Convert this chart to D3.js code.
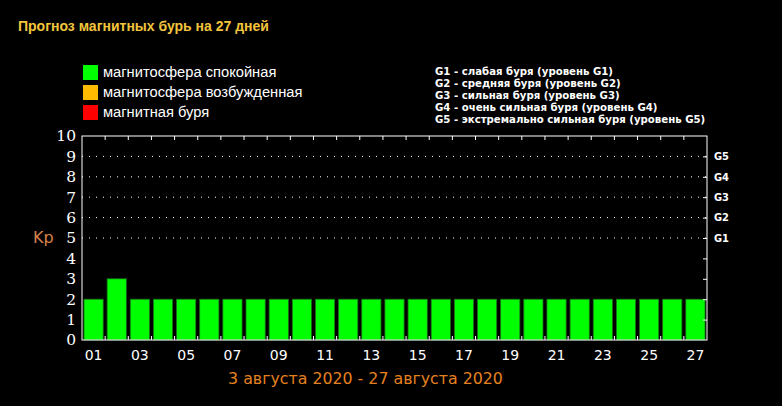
<!DOCTYPE html>
<html>
<head>
<meta charset="utf-8">
<script src="https://cdn.jsdelivr.net/npm/d3@7"></script>
<style>
  body { margin: 0; background: #000; }
  svg { display: block; }
</style>
</head>
<body>
<svg id="chart" width="782" height="406"></svg>
<script>
'use strict';

// forecast data
var days = d3.range(1, 28);
var kpValues = [2, 3, 2, 2, 2, 2, 2, 2, 2, 2, 2, 2, 2, 2, 2, 2, 2, 2, 2, 2, 2, 2, 2, 2, 2, 2, 2];
var dayLabels = ["01", "03", "05", "07", "09", "11", "13", "15", "17", "19", "21", "23", "25", "27"];
var kpTicks = [0, 1, 2, 3, 4, 5, 6, 7, 8, 9, 10];
var gLevels = [5, 6, 7, 8, 9];
var gLabels = ["G1", "G2", "G3", "G4", "G5"];

var legendItems = ["магнитосфера спокойная", "магнитосфера возбужденная", "магнитная буря"];
var legendColors = ["#00ff00", "#ffbb00", "#ff0000"];
var gDescriptions = [
    "G1 - слабая буря (уровень G1)",
    "G2 - средняя буря (уровень G2)",
    "G3 - сильная буря (уровень G3)",
    "G4 - очень сильная буря (уровень G4)",
    "G5 - экстремально сильная буря (уровень G5)"
];
var titleText = "Прогноз магнитных бурь на 27 дней";
var periodText = "3 августа 2020 - 27 августа 2020";

var margin = {top: 136, right: 75, bottom: 66, left: 82};
var width = 782 - margin.left - margin.right,
    height = 406 - margin.top - margin.bottom;

var svg = d3.select("#chart");

svg.append("text")
    .attr("x", 18)
    .attr("y", 31)
    .attr("fill", "#f3c53c")
    .style("font", "bold 14px 'Liberation Sans', Arial, sans-serif")
    .text(titleText);

// colour legend
var legend = svg.append("g").attr("transform", "translate(83,65)");
legend.selectAll("rect")
    .data(legendColors)
    .enter().append("rect")
    .attr("x", 0)
    .attr("y", function(d, i) { return i * 20; })
    .attr("width", 15)
    .attr("height", 15)
    .attr("fill", function(d) { return d; });
legend.selectAll("text")
    .data(legendItems)
    .enter().append("text")
    .attr("x", 20)
    .attr("y", function(d, i) { return i * 20 + 12; })
    .attr("fill", "#fff")
    .style("font", "14.7px 'Liberation Sans', Arial, sans-serif")
    .text(function(d) { return d; });

// storm level legend
svg.append("g").attr("transform", "translate(435,75)")
    .selectAll("text")
    .data(gDescriptions)
    .enter().append("text")
    .attr("y", function(d, i) { return i * 12; })
    .attr("fill", "#fff")
    .style("font", "bold 11.3px 'DejaVu Sans Condensed', 'DejaVu Sans', sans-serif")
    .text(function(d) { return d; });

var g = svg.append("g")
    .attr("transform", "translate(" + margin.left + "," + margin.top + ")");

var x = d3.scaleBand()
    .domain(days)
    .range([0, width])
    .paddingInner(0.17)
    .paddingOuter(0.085);

var y = d3.scaleLinear()
    .domain([0, 10])
    .range([height, 0]);

// dotted grid for G levels
g.selectAll(".grid")
    .data(gLevels)
    .enter().append("line")
    .attr("class", "grid")
    .attr("x1", 0)
    .attr("x2", width)
    .attr("y1", function(d) { return y(d); })
    .attr("y2", function(d) { return y(d); })
    .attr("stroke", "#fff")
    .attr("stroke-width", 1)
    .attr("stroke-dasharray", "1,6");

g.selectAll(".bar")
    .data(kpValues)
    .enter().append("rect")
    .attr("class", "bar")
    .attr("x", function(d, i) { return x(days[i]); })
    .attr("y", function(d) { return y(d); })
    .attr("width", x.bandwidth())
    .attr("height", function(d) { return height - y(d); })
    .attr("fill", "#00ff00")
    .attr("stroke", "#1f6d1f")
    .attr("stroke-width", 0.8);

// frame
g.append("rect")
    .attr("width", width)
    .attr("height", height)
    .attr("fill", "none")
    .attr("stroke", "#fff")
    .attr("stroke-width", 1);

// ticks between bars, top and bottom
var step = x.step();
var boundaries = d3.range(1, days.length).map(function(k) { return k * step; });
g.selectAll(".tickTop")
    .data(boundaries)
    .enter().append("line")
    .attr("x1", function(d) { return d; })
    .attr("x2", function(d) { return d; })
    .attr("y1", 0)
    .attr("y2", 4)
    .attr("stroke", "#fff");
g.selectAll(".tickBottom")
    .data(boundaries)
    .enter().append("line")
    .attr("x1", function(d) { return d; })
    .attr("x2", function(d) { return d; })
    .attr("y1", height)
    .attr("y2", height - 4)
    .attr("stroke", "#fff");

// left axis: Kp numbers
var yAxis = g.append("g")
    .call(d3.axisLeft(y).tickValues(kpTicks).tickSize(0).tickPadding(6));
yAxis.select(".domain").remove();
yAxis.selectAll("text")
    .attr("fill", "#fff")
    .style("font", "15.5px 'DejaVu Serif', serif");

// right axis: inward ticks and G labels
var rAxis = g.append("g")
    .attr("transform", "translate(" + width + ",0)")
    .call(d3.axisLeft(y).tickValues(d3.range(1, 10)).tickSize(4).tickFormat(""));
rAxis.select(".domain").remove();
rAxis.selectAll("line").attr("stroke", "#fff");

g.append("g")
    .attr("transform", "translate(" + width + ",0)")
    .selectAll("text")
    .data(gLevels)
    .enter().append("text")
    .attr("x", 7)
    .attr("y", function(d) { return y(d); })
    .attr("dy", "0.35em")
    .attr("fill", "#fff")
    .style("font", "bold 11px 'DejaVu Sans Condensed', 'DejaVu Sans', sans-serif")
    .text(function(d, i) { return gLabels[i]; });

// bottom labels under odd days
var xAxis = g.append("g")
    .attr("transform", "translate(0," + height + ")")
    .call(d3.axisBottom(x)
        .tickValues(days.filter(function(d) { return d % 2 === 1; }))
        .tickSize(0)
        .tickPadding(10)
        .tickFormat(function(d, i) { return dayLabels[i]; }));
xAxis.select(".domain").remove();
xAxis.selectAll("text")
    .attr("fill", "#fff")
    .style("font", "14px 'DejaVu Sans', sans-serif");

svg.append("text")
    .attr("x", 33)
    .attr("y", 243)
    .attr("fill", "#d9824a")
    .style("font", "16px 'DejaVu Sans', sans-serif")
    .text("Kp");

svg.append("text")
    .attr("x", margin.left + width / 2 - 29)
    .attr("y", 384)
    .attr("text-anchor", "middle")
    .attr("fill", "#e5801f")
    .style("font", "15.8px 'DejaVu Sans', sans-serif")
    .text(periodText);
</script>
</body>
</html>
